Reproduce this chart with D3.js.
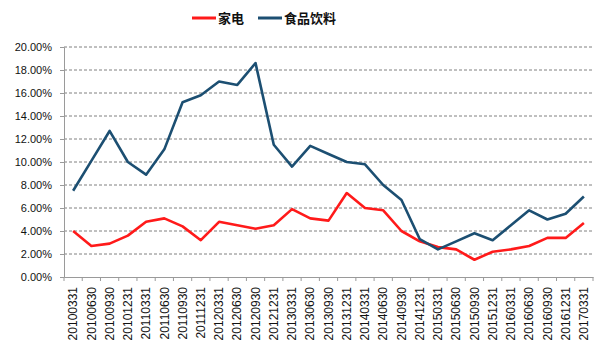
<!DOCTYPE html>
<html>
<head>
<meta charset="utf-8">
<script src="https://cdn.jsdelivr.net/npm/d3@7"></script>
<style>
  body { margin: 0; background: #fff; }
  svg { font-family: "Liberation Sans", Arial, sans-serif; }
</style>
</head>
<body>
<div id="chart"></div>
<script>
// quarterly report dates
const dates = ['20100331', '20100630', '20100930', '20101231', '20110331', '20110630', '20110930', '20111231',
    '20120331', '20120630', '20120930', '20121231', '20130331', '20130630', '20130930', '20131231',
    '20140331', '20140630', '20140930', '20141231', '20150331', '20150630', '20150930', '20151231',
    '20160331', '20160630', '20160930', '20161231', '20170331'];

// 家电 (%)
const jiadian = [4.0, 2.7, 2.9, 3.6, 4.8, 5.1, 4.4, 3.2, 4.8, 4.5, 4.2, 4.5, 5.9, 5.1, 4.9, 7.3,
    6.0, 5.8, 4.0, 3.1, 2.6, 2.4, 1.5, 2.2, 2.4, 2.7, 3.4, 3.4, 4.7];

// 食品饮料 (%)
const shipin = [7.5, 10.1, 12.7, 10.0, 8.9, 11.1, 15.2, 15.8, 17.0, 16.7, 18.6, 11.5, 9.6, 11.4, 10.7, 10.0,
    9.8, 8.0, 6.7, 3.3, 2.4, 3.1, 3.8, 3.2, 4.5, 5.8, 5.0, 5.5, 7.0];

const yTicks = [0, 2, 4, 6, 8, 10, 12, 14, 16, 18, 20];

const width = 603, height = 351;
const margin = {top: 47, right: 10, bottom: 74, left: 64};

const svg = d3.select('#chart').append('svg')
    .attr('width', width)
    .attr('height', height);

const x = d3.scaleBand()
    .domain(dates)
    .range([margin.left, width - margin.right]);

const y = d3.scaleLinear()
    .domain([0, 20])
    .range([height - margin.bottom, margin.top]);

// dashed gridlines
svg.append('g')
    .selectAll('line')
    .data(yTicks.slice(1))
    .enter().append('line')
    .attr('x1', margin.left)
    .attr('x2', width - margin.right)
    .attr('y1', d => y(d))
    .attr('y2', d => y(d))
    .attr('stroke', '#808080')
    .attr('stroke-width', 1)
    .attr('stroke-dasharray', '3,2');

// y axis
const yAxis = svg.append('g')
    .attr('transform', `translate(${margin.left},0)`)
    .call(d3.axisLeft(y).tickValues(yTicks).tickSize(4).tickPadding(8)
        .tickFormat(d => d.toFixed(2) + '%'));
yAxis.select('.domain').attr('stroke', '#9a9a9a');
yAxis.selectAll('.tick line').attr('stroke', '#9a9a9a');
yAxis.selectAll('text').attr('font-size', 11).attr('fill', '#111');

// x axis, ticks between categories
const xAxis = svg.append('g')
    .attr('transform', `translate(0,${height - margin.bottom})`)
    .call(d3.axisBottom(x).tickSize(0).tickSizeOuter(0).tickPadding(0));
xAxis.select('.domain').attr('stroke', '#9a9a9a');
xAxis.selectAll('text')
    .attr('font-size', 12)
    .attr('fill', '#111')
    .attr('text-anchor', 'end')
    .attr('dy', '0.35em')
    .attr('transform', 'translate(0,10) rotate(-90)');
xAxis.selectAll('.sep')
    .data(dates.concat(['end']))
    .enter().append('line')
    .attr('class', 'sep')
    .attr('x1', (d, i) => margin.left + i * x.step())
    .attr('x2', (d, i) => margin.left + i * x.step())
    .attr('y1', 0)
    .attr('y2', 4)
    .attr('stroke', '#9a9a9a');

// lines
const line = d3.line()
    .x((d, i) => x(dates[i]) + x.bandwidth() / 2)
    .y(d => y(d));

const series = [
    {name: '家电', values: jiadian, color: '#ff1a1a'},
    {name: '食品饮料', values: shipin, color: '#1c4f72'}
];

svg.selectAll('.series')
    .data(series)
    .enter().append('path')
    .attr('class', 'series')
    .attr('d', d => line(d.values))
    .attr('fill', 'none')
    .attr('stroke', d => d.color)
    .attr('stroke-width', 2.6)
    .attr('stroke-linejoin', 'round');

// legend
const legend = svg.append('g').attr('transform', 'translate(192,18)');
const legendX = [0, 66];
series.forEach((s, i) => {
    const g = legend.append('g').attr('transform', `translate(${legendX[i]},0)`);
    g.append('line')
        .attr('x1', 0).attr('x2', 24)
        .attr('y1', 0).attr('y2', 0)
        .attr('stroke', s.color)
        .attr('stroke-width', 3);
    g.append('text')
        .attr('x', 26)
        .attr('y', 0)
        .attr('dy', '0.36em')
        .attr('font-size', 13)
        .attr('font-weight', 'bold')
        .attr('font-family', '"Noto Sans CJK SC", sans-serif')
        .attr('fill', '#111')
        .text(s.name);
});
</script>
</body>
</html>
